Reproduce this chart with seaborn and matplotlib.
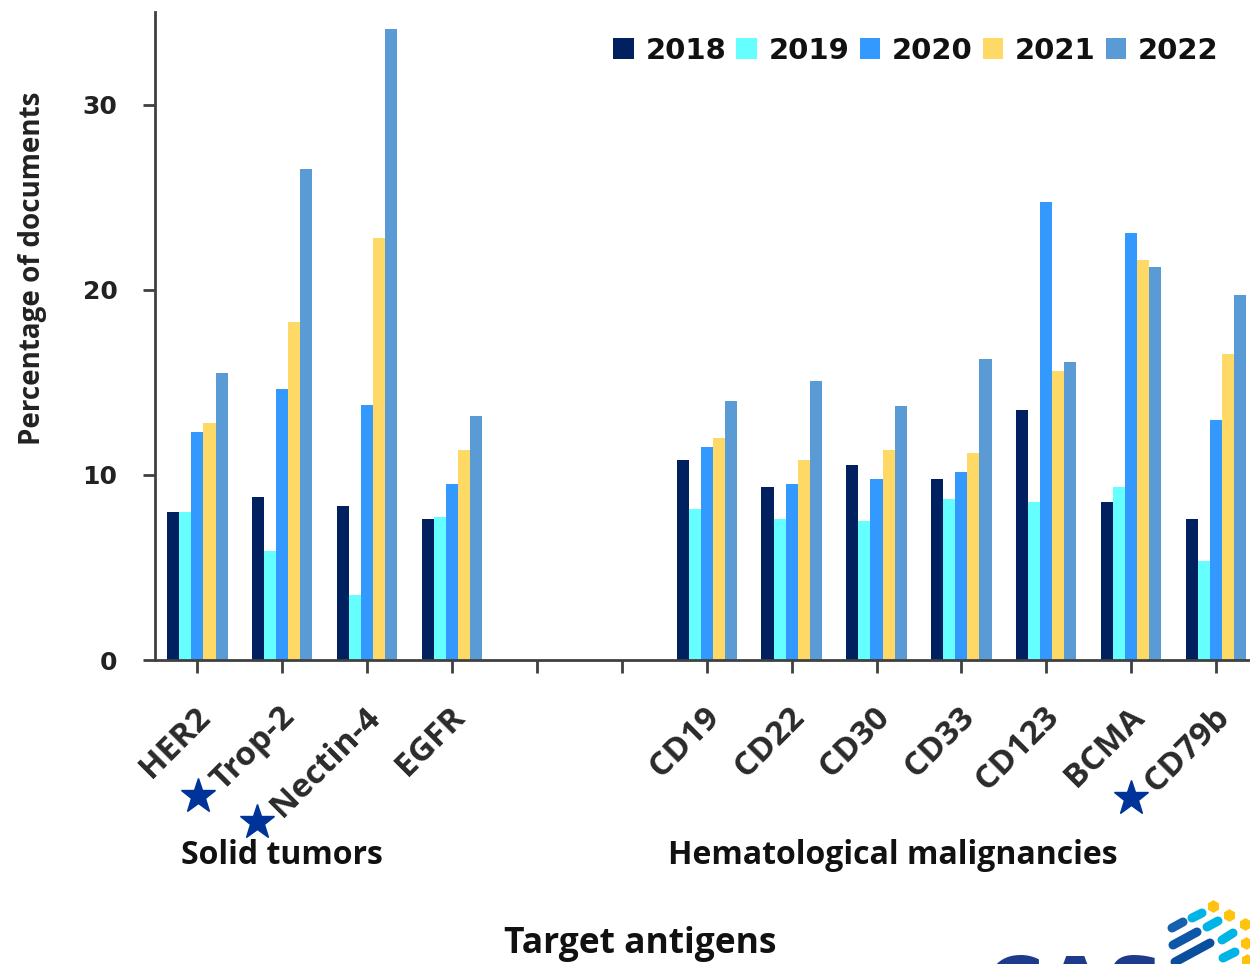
import numpy as np
import pandas as pd
import matplotlib
matplotlib.use("Agg")
import matplotlib.pyplot as plt
from matplotlib.lines import Line2D
from matplotlib.transforms import ScaledTranslation
import seaborn as sns

# ---- data -------------------------------------------------------------
years = ["2018", "2019", "2020", "2021", "2022"]
solid = ["HER2", "Trop-2", "Nectin-4", "EGFR"]
heme = ["CD19", "CD22", "CD30", "CD33", "CD123", "BCMA", "CD79b"]
antigens = solid + heme

v2018 = [8.0, 8.8, 8.3, 7.6, 10.8, 9.35, 10.55, 9.75, 13.5, 8.55, 7.6]
v2019 = [8.0, 5.9, 3.5, 7.75, 8.15, 7.6, 7.5, 8.7, 8.55, 9.35, 5.35]
v2020 = [12.3, 14.65, 13.75, 9.5, 11.5, 9.5, 9.75, 10.15, 24.75, 23.05, 12.95]
v2021 = [12.8, 18.25, 22.8, 11.35, 12.0, 10.8, 11.35, 11.2, 15.6, 21.6, 16.55]
v2022 = [15.5, 26.5, 34.1, 13.2, 14.0, 15.05, 13.7, 16.25, 16.1, 21.2, 19.7]

starred = ["Trop-2", "Nectin-4", "CD79b"]
year_colors = ["#002060", "#66FFFF", "#3399FF", "#FFD966", "#5B9BD5"]

# two empty slots separate the solid-tumour and haematological groups
gap_slots = ["_gap1", "_gap2"]
order = solid + gap_slots + heme
tick_text = solid + ["", ""] + heme

rows = []
for yr, vals in zip(years, [v2018, v2019, v2020, v2021, v2022]):
    for ag, v in zip(antigens, vals):
        rows.append({"antigen": ag, "year": yr, "pct": v})
df = pd.DataFrame(rows)

# ---- figure -----------------------------------------------------------
sns.set_theme(style="white")
plt.rcParams["font.family"] = ["DejaVu Sans"]

LABEL_FONT = "Open Sans"
W, H = 1250, 964
fig = plt.figure(figsize=(W / 100, H / 100), dpi=100)
ax = fig.add_axes([155 / W, (H - 660) / H, 1 - 155 / W, (660 - 12) / H])

sns.barplot(data=df, x="antigen", y="pct", hue="year", order=order,
            hue_order=years, palette=year_colors, width=0.71, gap=0,
            linewidth=0, saturation=1, errorbar=None, ax=ax)

ax.set_xlim(-0.5, 12.4)
ax.set_ylim(0, 35)
ax.set_yticks([0, 10, 20, 30])

spine_col = "#404040"
for side in ["top", "right"]:
    ax.spines[side].set_visible(False)
for side in ["left", "bottom"]:
    ax.spines[side].set_color(spine_col)
    ax.spines[side].set_linewidth(2)

ax.tick_params(axis="both", direction="out", length=9, width=2,
               color=spine_col, bottom=True, left=True)
ax.tick_params(axis="y", pad=18)
for lab in ax.get_yticklabels():
    lab.set_fontweight("bold")
    lab.set_fontsize(18)
    lab.set_color("#222222")

ax.set_xticks(range(len(order)))
ax.set_xticklabels(tick_text, rotation=45, ha="right", va="center",
                   rotation_mode="anchor", fontsize=24, family=LABEL_FONT,
                   fontweight="bold", color="#2a2a2a")
shift = ScaledTranslation(0.08, -0.35, fig.dpi_scale_trans)
for lab in ax.get_xticklabels():
    lab.set_transform(lab.get_transform() + shift)

ax.set_xlabel("")
ax.set_ylabel("Percentage of documents", family=LABEL_FONT,
              fontweight="bold", fontsize=20, color="#222222")
ax.yaxis.set_label_coords(-(155 - 47) / (W - 155), (660 - 268) / 648)

# legend across the top right
leg = ax.legend(loc="upper right", bbox_to_anchor=(1230 / W, (H - 25) / H),
                bbox_transform=fig.transFigure, ncol=5, frameon=False,
                handlelength=0.7, handleheight=0.7, handletextpad=0.4,
                columnspacing=0.35, borderaxespad=0,
                prop={"weight": "bold", "size": 21})
for t in leg.get_texts():
    t.set_color("#111111")

# group captions and axis title
fig.text(282 / W, 1 - 855 / H, "Solid tumors", ha="center", va="center",
         family=LABEL_FONT, fontweight="bold", fontsize=23, color="#111111")
fig.text(893 / W, 1 - 855 / H, "Hematological malignancies", ha="center",
         va="center", family=LABEL_FONT, fontweight="bold", fontsize=23,
         color="#111111")
fig.text(640 / W, 1 - 944 / H, "Target antigens", ha="center", va="center",
         family=LABEL_FONT, fontweight="bold", fontsize=25.5, color="#111111")

# stars next to the starred antigen labels
fig.canvas.draw()
for lab in ax.get_xticklabels():
    if lab.get_text() in starred:
        bb = lab.get_window_extent()
        fig.add_artist(Line2D([(bb.x0 - 7) / W], [(bb.y0 + 1) / H],
                              marker="*", markersize=26, color="#003399",
                              linestyle="none", transform=fig.transFigure))

# corner logo (partly cut off by the lower edge)
fig.text(985 / W, 1 - 954 / H, "CAS", ha="left", va="top", fontsize=58,
         fontweight="bold", color="#1E3A8A")
logo_dash = [((1172, 928), (1183, 922), "#1660AE"),
             ((1173, 945), (1197, 932), "#0E56A8"),
             ((1175, 962), (1210, 943), "#0A4E9E"),
             ((1192, 918), (1202, 913), "#00B4E6"),
             ((1207, 927), (1218, 921), "#00B4E6"),
             ((1222, 940), (1233, 933), "#00B4E6"),
             ((1223, 958), (1235, 952), "#00B4E6")]
for (x0, y0), (x1, y1), c in logo_dash:
    fig.add_artist(Line2D([x0 / W, x1 / W], [1 - y0 / H, 1 - y1 / H],
                          lw=6.5, color=c, solid_capstyle="round",
                          transform=fig.transFigure))
for (x, y) in [(1213, 906), (1229, 915), (1245, 924), (1246, 943), (1247, 960)]:
    fig.add_artist(Line2D([x / W], [1 - y / H], marker="h", markersize=8,
                          color="#FFC20E", linestyle="none",
                          transform=fig.transFigure))

fig.savefig("out.png", dpi=100)
